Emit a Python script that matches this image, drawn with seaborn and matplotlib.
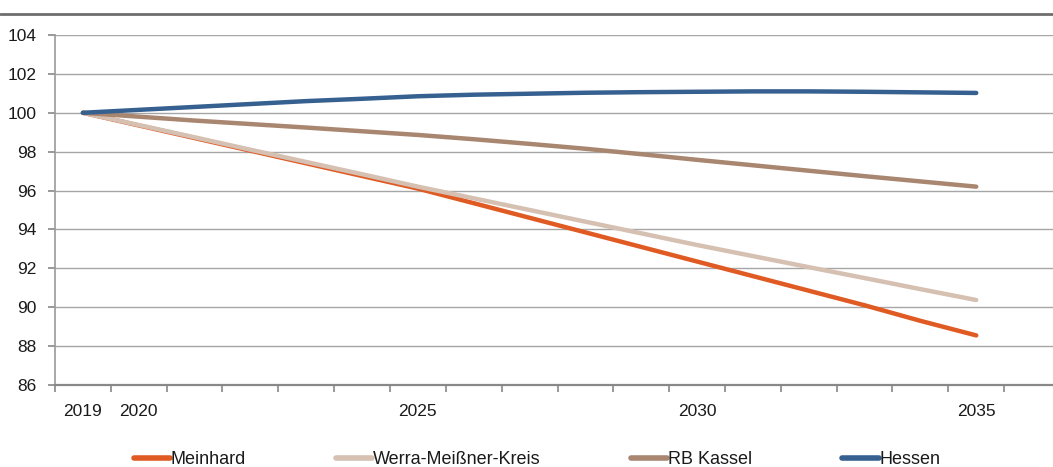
import matplotlib
matplotlib.use("Agg")
import matplotlib.pyplot as plt
import seaborn as sns
import pandas as pd
import numpy as np

sns.set_theme(style="white")
plt.rcParams['font.family'] = ['Liberation Sans Narrow', 'Liberation Sans', 'DejaVu Sans']

# data (index, 2019 = 100)
years = list(range(2019, 2036))
meinhard = [100.0, 99.35, 98.7, 98.05, 97.4, 96.75, 96.1, 95.35, 94.6, 93.85,
            93.1, 92.35, 91.6, 90.85, 90.1, 89.3, 88.55]
werra = [100.0, 99.37, 98.74, 98.1, 97.47, 96.84, 96.2, 95.6, 95.0, 94.4,
         93.8, 93.2, 92.63, 92.06, 91.5, 90.93, 90.37]
kassel = [100.0, 99.8, 99.6, 99.42, 99.24, 99.05, 98.86, 98.64, 98.4, 98.15,
          97.87, 97.58, 97.3, 97.02, 96.74, 96.47, 96.2]
hessen = [100.0, 100.15, 100.3, 100.45, 100.6, 100.72, 100.85, 100.93, 100.98,
          101.03, 101.06, 101.08, 101.1, 101.1, 101.08, 101.05, 101.02]
series_names = ["Meinhard", "Werra-Meißner-Kreis", "RB Kassel", "Hessen"]
shown_years = [2019, 2020, 2025, 2030, 2035]
colors = {"Meinhard": "#E05A24", "Werra-Meißner-Kreis": "#D5C0B2",
          "RB Kassel": "#A88670", "Hessen": "#35608F"}

rows = []
for name, vals in zip(series_names, [meinhard, werra, kassel, hessen]):
    for i, v in enumerate(vals):
        rows.append({"pos": i, "Jahr": years[i], "Region": name, "Index": v})
df = pd.DataFrame(rows)

fig = plt.figure(figsize=(10.53, 4.67), dpi=100)
W, H = 1053, 467
ax = fig.add_axes([55 / W, (H - 385) / H, (1060 - 55) / W, 350 / H])

sns.lineplot(data=df, x="pos", y="Index", hue="Region", palette=colors,
             hue_order=series_names, linewidth=3.2, ax=ax, legend=False,
             solid_capstyle="round")

ax.set_xlim(-0.5, len(years) + 0.5)
ax.set_ylim(86, 104)
ax.set_yticks(np.arange(86, 105, 2))
ax.yaxis.grid(True, color="#A6A6A6", linewidth=1.0)
ax.xaxis.grid(False)

# category axis: ticks between categories, labels in the middle
ax.set_xticks(np.arange(-0.5, len(years) + 0.5, 1.0))
ax.set_xticklabels([])
ax.set_xticks([years.index(y) for y in shown_years], minor=True)
ax.set_xticklabels([str(y) for y in shown_years], minor=True)
ax.tick_params(axis="x", which="major", direction="out", length=5, width=1.2,
               color="#888888", bottom=True)
ax.tick_params(axis="x", which="minor", length=0, pad=14, labelsize=12.5,
               labelcolor="#1a1a1a")
ax.tick_params(axis="y", direction="out", length=5, width=1.2, color="#888888",
               left=True, pad=8, labelsize=12.5, labelcolor="#1a1a1a")
ax.set_xlabel("")
ax.set_ylabel("")

for s in ["top", "right"]:
    ax.spines[s].set_visible(False)
ax.spines["left"].set_color("#999999")
ax.spines["left"].set_linewidth(1.2)
ax.spines["bottom"].set_color("#888888")
ax.spines["bottom"].set_linewidth(1.6)

# rule at the top of the figure
fig.add_artist(plt.Line2D([0, 1], [1 - 13.5 / H, 1 - 13.5 / H],
                          color="#6E6E6E", linewidth=2.0,
                          transform=fig.transFigure))

handles = [plt.Line2D([], [], color=colors[n], linewidth=4) for n in series_names]
fig.legend(handles, series_names, loc="center", ncol=4,
           bbox_to_anchor=(537 / W, (H - 460) / H), frameon=False,
           fontsize=13, handlelength=2.0, handletextpad=0.05,
           columnspacing=5.0, labelcolor="#1a1a1a")

fig.savefig("out.png", dpi=100)
